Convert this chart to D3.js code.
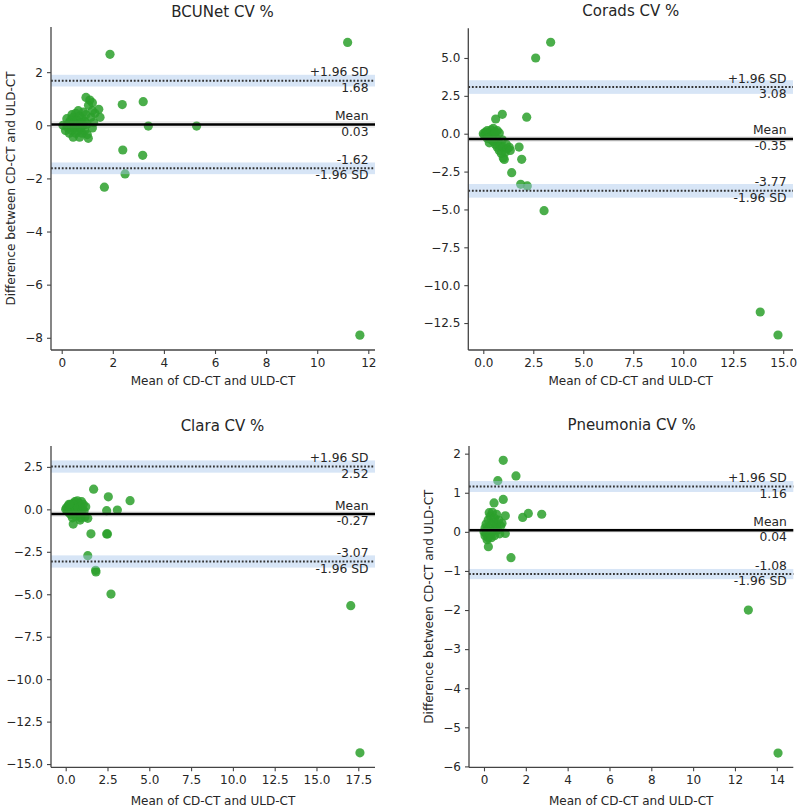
<!DOCTYPE html>
<html><head><meta charset="utf-8">
<script src="https://cdn.jsdelivr.net/npm/d3@7"></script>
<style>
body{margin:0;background:#fff}
svg{display:block}
text{font-family:"DejaVu Sans",sans-serif}
</style>
</head><body>
<svg id="chart" width="800" height="808"></svg>
<script>
// ---------------- DATA ----------------
const titles = ["BCUNet CV %", "Corads CV %", "Clara CV %", "Pneumonia CV %"];
const xLabel = "Mean of CD-CT and ULD-CT";
const yLabel = "Difference between CD-CT and ULD-CT";

// [mean of CD-CT and ULD-CT, difference]
const bcunetPoints = [
  [1.89,2.67],[11.19,3.12],[2.37,0.78],[3.19,0.89],[3.39,-0.03],[5.28,-0.03],
  [2.39,-0.93],[3.17,-1.13],[2.48,-1.83],[1.67,-2.33],[11.67,-7.90],[1.04,-0.49],
  [0.05,0.0],[0.15,-0.2],[0.2,0.0],[0.2,0.25],[0.25,-0.1],[0.3,0.1],[0.3,-0.3],
  [0.35,0.2],[0.4,-0.2],[0.4,0.0],[0.4,0.4],[0.45,0.3],[0.45,-0.45],[0.5,0.1],
  [0.5,-0.1],[0.55,0.45],[0.55,-0.3],[0.6,0.2],[0.6,0.0],[0.65,-0.2],[0.65,0.55],
  [0.7,0.35],[0.7,-0.45],[0.75,0.1],[0.75,-0.1],[0.8,0.25],[0.8,-0.3],[0.85,0.5],
  [0.85,0.0],[0.9,0.15],[0.9,-0.2],[0.95,0.4],[0.95,1.05],[1.0,0.05],[1.0,-0.35],
  [1.05,0.75],[1.1,0.95],[1.15,0.3],[1.2,0.85],[1.2,0.55],[1.25,0.1],[1.2,-0.1],
  [1.45,0.6],[1.5,0.3],[1.3,0.45]
];
const coradsPoints = [
  [3.37,6.04],[2.62,5.00],[2.17,1.09],[0.95,1.28],[0.62,0.97],[1.79,-0.88],
  [1.92,-1.69],[1.42,-2.57],[1.87,-3.34],[2.20,-3.45],[3.04,-5.08],[13.85,-11.77],
  [14.74,-13.29],
  [0.0,0.0],[0.05,-0.1],[0.1,0.1],[0.15,-0.05],[0.2,0.2],[0.25,-0.2],[0.3,0.05],
  [0.35,-0.3],[0.4,0.25],[0.45,-0.1],[0.5,0.35],[0.5,-0.5],[0.55,0.0],[0.6,-0.7],
  [0.65,-0.3],[0.7,0.2],[0.7,-0.9],[0.75,-0.5],[0.8,0.05],[0.8,-1.1],[0.85,-0.8],
  [0.9,-1.3],[0.95,-0.4],[1.0,-1.6],[1.0,-0.9],[1.05,-1.7],[1.1,-1.2],[1.15,-0.7],
  [1.2,-1.0],[1.3,-0.9],[1.35,-1.1],[0.3,-0.6],[0.4,-0.4],[0.2,-0.3],[0.6,0.1]
];
const claraPoints = [
  [1.67,1.19],[2.55,0.74],[3.85,0.51],[3.09,-0.04],[2.45,-0.08],[1.32,-0.53],
  [1.51,-1.44],[2.45,-1.45],[2.50,-1.45],[1.32,-2.73],[1.79,-3.59],[1.81,-3.69],
  [2.71,-4.99],[17.05,-5.67],[17.60,-14.34],[0.45,-0.87],[0.86,-0.63],
  [0.0,0.0],[0.05,0.1],[0.1,-0.1],[0.15,0.2],[0.2,-0.2],[0.25,0.05],[0.3,0.3],
  [0.3,-0.3],[0.35,0.1],[0.4,-0.05],[0.45,0.35],[0.5,0.15],[0.5,-0.25],[0.55,0.45],
  [0.6,0.0],[0.6,-0.4],[0.65,0.25],[0.7,0.5],[0.7,-0.15],[0.75,0.1],[0.8,0.35],
  [0.85,-0.3],[0.9,0.2],[0.95,0.45],[1.0,0.0],[1.05,0.3],[1.1,-0.1],[1.15,-0.45],
  [1.2,0.15],[0.4,-0.5],[0.2,0.3],[0.9,-0.5]
];
const pneumoniaPoints = [
  [0.92,1.83],[1.53,1.43],[0.66,1.31],[0.48,0.74],[0.92,0.83],[1.02,0.41],
  [1.85,0.37],[2.12,0.47],[2.76,0.45],[1.29,-0.66],[0.21,-0.38],[1.02,-0.04],
  [12.64,-2.00],[14.06,-5.66],[0.25,0.49],
  [0.0,0.0],[0.05,0.1],[0.05,-0.1],[0.1,0.2],[0.1,-0.05],[0.15,0.05],[0.2,0.3],
  [0.2,-0.15],[0.25,0.1],[0.3,0.4],[0.3,-0.1],[0.35,0.2],[0.4,0.5],[0.4,0.0],
  [0.45,0.25],[0.5,-0.1],[0.5,0.35],[0.55,0.1],[0.6,0.2],[0.65,0.05],[0.7,0.3],
  [0.75,-0.05],[0.8,0.15],[0.15,-0.2],[0.35,-0.15],[0.6,0.45],[0.86,0.22]
];

const meanDiff = [0.03, -0.35, -0.27, 0.04];
const upperLoA = [1.68, 3.08, 2.52, 1.16];
const lowerLoA = [-1.62, -3.77, -3.07, -1.08];
const meanCI  = [[-0.10, 0.16], [-0.55, -0.15], [-0.45, -0.09], [-0.02, 0.10]];
const upperCI = [[1.46, 1.90], [2.63, 3.53], [2.16, 2.88], [1.02, 1.30]];
const lowerCI = [[-1.84, -1.40], [-4.22, -3.32], [-3.43, -2.71], [-1.21, -0.95]];
const upperLabel = "+1.96 SD";
const lowerLabel = "-1.96 SD";
const meanLabel = "Mean";

const xTicks = [
  [0, 2, 4, 6, 8, 10, 12],
  [0, 2.5, 5, 7.5, 10, 12.5, 15],
  [0, 2.5, 5, 7.5, 10, 12.5, 15, 17.5],
  [0, 2, 4, 6, 8, 10, 12, 14]
];
const yTicks = [
  [-8, -6, -4, -2, 0, 2],
  [-12.5, -10, -7.5, -5, -2.5, 0, 2.5, 5],
  [-15, -12.5, -10, -7.5, -5, -2.5, 0, 2.5],
  [-6, -5, -4, -3, -2, -1, 0, 1, 2]
];
const tickFormats = ["d", ".1f", ".1f", "d"];

// ---------------- LAYOUT ----------------
const layout = [
  {left:51,   right:375,   top:27,   bottom:350,   xDom:[-0.419,12.262], yDom:[-8.46,3.70],   titleX:222.5, titleY:16.5,  xLabelY:385, yLabelX:15},
  {left:468.3,right:793,   top:28.3, bottom:350,   xDom:[-0.75,15.49],   yDom:[-14.28,6.96],  titleX:630.8, titleY:15.5,  xLabelY:385, yLabelX:null},
  {left:51,   right:375,   top:446,  bottom:767.3, xDom:[-0.879,18.50],  yDom:[-15.19,3.73],  titleX:222.5, titleY:430.5, xLabelY:805, yLabelX:null},
  {left:469,  right:793.3, top:446,  bottom:767.3, xDom:[-0.717,14.79],  yDom:[-6.023,2.196], titleX:631.7, titleY:429.5, xLabelY:805, yLabelX:433}
];
const allPoints = [bcunetPoints, coradsPoints, claraPoints, pneumoniaPoints];

const svg = d3.select("#chart");
const textColor = "#262626";

allPoints.forEach((pts, i) => {
  const L = layout[i];
  const x = d3.scaleLinear().domain(L.xDom).range([L.left, L.right]);
  const y = d3.scaleLinear().domain(L.yDom).range([L.bottom, L.top]);
  const g = svg.append("g");

  // scatter
  g.append("g").selectAll("circle").data(pts).join("circle")
    .attr("cx", d => x(d[0])).attr("cy", d => y(d[1])).attr("r", 4.6)
    .attr("fill", "#2ca02c").attr("fill-opacity", 0.85);

  // CI bands
  const band = (ci, color, op) => g.append("rect")
    .attr("x", L.left).attr("width", L.right - L.left)
    .attr("y", y(ci[1])).attr("height", y(ci[0]) - y(ci[1]))
    .attr("fill", color).attr("fill-opacity", op);
  band(meanCI[i], "#888888", 0.15);
  band(upperCI[i], "#a6c6ea", 0.45);
  band(lowerCI[i], "#a6c6ea", 0.45);

  // lines
  const hline = (v) => g.append("line")
    .attr("x1", L.left).attr("x2", L.right).attr("y1", y(v)).attr("y2", y(v));
  hline(meanDiff[i]).attr("stroke", "#000").attr("stroke-width", 2.6);
  hline(upperLoA[i]).attr("stroke", "#333").attr("stroke-width", 2).attr("stroke-dasharray", "1.8,1.8");
  hline(lowerLoA[i]).attr("stroke", "#333").attr("stroke-width", 2).attr("stroke-dasharray", "1.8,1.8");

  // annotations
  const offset = (upperLoA[i] - lowerLoA[i]) / 100 * 1.5;
  const tx = L.left + 0.98 * (L.right - L.left);
  const above = (v, s) => g.append("text").attr("x", tx).attr("y", y(v + offset) - 3)
    .attr("text-anchor", "end").attr("font-size", 12.3).attr("fill", textColor).text(s);
  const below = (v, s) => g.append("text").attr("x", tx).attr("y", y(v - offset) + 9.8)
    .attr("text-anchor", "end").attr("font-size", 12.3).attr("fill", textColor).text(s);
  above(meanDiff[i], meanLabel);
  below(meanDiff[i], meanDiff[i].toFixed(2));
  above(upperLoA[i], upperLabel);
  below(upperLoA[i], upperLoA[i].toFixed(2));
  above(lowerLoA[i], lowerLoA[i].toFixed(2));
  below(lowerLoA[i], lowerLabel);

  // axes
  const fmt = d3.format(tickFormats[i]);
  const xa = g.append("g").attr("transform", `translate(0,${L.bottom})`)
    .call(d3.axisBottom(x).tickValues(xTicks[i]).tickFormat(fmt).tickSize(4).tickSizeOuter(0).tickPadding(4));
  const ya = g.append("g").attr("transform", `translate(${L.left},0)`)
    .call(d3.axisLeft(y).tickValues(yTicks[i]).tickFormat(fmt).tickSize(4).tickSizeOuter(0).tickPadding(4));
  [xa, ya].forEach(a => {
    a.select(".domain").attr("stroke", "#444").attr("stroke-width", 1.3);
    a.selectAll(".tick line").attr("stroke", "#444").attr("stroke-width", 1.1);
    a.selectAll(".tick text").attr("font-size", 12).attr("fill", textColor)
      .attr("font-family", '"DejaVu Sans",sans-serif');
  });
  xa.select(".domain").attr("d", `M${L.left},0H${L.right}`);
  ya.select(".domain").attr("d", `M0,${L.top}V${L.bottom}`);

  // titles and labels
  g.append("text").attr("x", L.titleX).attr("y", L.titleY).attr("text-anchor", "middle")
    .attr("font-size", 15).attr("fill", textColor).text(titles[i]);
  g.append("text").attr("x", (L.left + L.right) / 2).attr("y", L.xLabelY).attr("text-anchor", "middle")
    .attr("font-size", 12).attr("fill", textColor).text(xLabel);
  if (L.yLabelX !== null) {
    const cy = (L.top + L.bottom) / 2;
    g.append("text").attr("transform", `translate(${L.yLabelX},${cy}) rotate(-90)`)
      .attr("text-anchor", "middle").attr("font-size", 12).attr("fill", textColor).text(yLabel);
  }
});
</script>
</body></html>
